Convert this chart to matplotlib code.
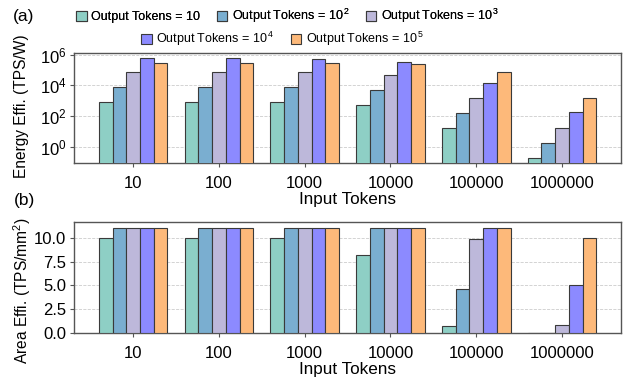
import matplotlib
matplotlib.use("Agg")
import matplotlib.pyplot as plt
import numpy as np
from matplotlib.patches import Patch

plt.rcParams['font.family'] = ['Liberation Sans', 'DejaVu Sans']
plt.rcParams['mathtext.fontset'] = 'custom'
plt.rcParams['mathtext.rm'] = 'Liberation Sans'
plt.rcParams['mathtext.it'] = 'Liberation Sans'

input_tokens = ["10", "100", "1000", "10000", "100000", "1000000"]
series_labels = ["Output Tokens = 10", "Output Tokens = 10$^{\\,2}$", "Output Tokens = 10$^{\\,3}$",
                 "Output Tokens = 10$^{\\,4}$", "Output Tokens = 10$^{\\,5}$"]
colors = ["#8ecfc5", "#7aaed0", "#bdb8da", "#8c8aff", "#fdb97a"]

energy = {
    "10":    [820, 7800, 78000, 600000, 300000],
    "100":   [820, 7800, 78000, 600000, 300000],
    "1000":  [820, 7800, 78000, 560000, 300000],
    "10000": [500, 4700, 45000, 316000, 270000],
    "100000": [16, 158, 1500, 15000, 70000],
    "1000000": [0.17, 1.66, 16, 173, 1580],
}
area = {
    "10":    [10.0, 11.0, 11.0, 11.0, 11.0],
    "100":   [10.0, 11.0, 11.0, 11.0, 11.0],
    "1000":  [10.0, 11.0, 11.0, 11.0, 11.0],
    "10000": [8.15, 11.0, 11.0, 11.0, 11.0],
    "100000": [0.8, 4.63, 9.9, 11.0, 11.0],
    "1000000": [0.01, 0.06, 0.87, 5.0, 9.95],
}

fig = plt.figure(figsize=(6.32, 3.85), dpi=100)
ax1 = fig.add_axes([0.117, 0.5758, 0.866, 0.2858])
ax2 = fig.add_axes([0.117, 0.1343, 0.866, 0.2883])

x = np.arange(len(input_tokens))
w = 0.16
for ax, data in ((ax1, energy), (ax2, area)):
    for i in range(5):
        vals = [data[k][i] for k in input_tokens]
        ax.bar(x + (i - 2) * w, vals, width=w, color=colors[i], edgecolor="#3a3a3a",
               linewidth=0.8, zorder=3)
    ax.set_xlim(-0.69, 5.69)
    ax.set_xticks(x)
    ax.set_xticklabels(input_tokens, fontsize=12)
    ax.set_xlabel("Input Tokens", fontsize=12.3, labelpad=1)
    ax.grid(axis='y', linestyle='--', color='#cccccc', linewidth=0.6, zorder=0)
    for s in ax.spines.values():
        s.set_color('#555555')
        s.set_linewidth(1.0)
    ax.tick_params(axis='both', colors='#555555', labelcolor='black', length=3)
    ax.tick_params(axis='x', pad=6)
    ax.tick_params(axis='y', labelsize=12, pad=2.5)

ax1.set_yscale('log')
ax1.set_ylim(10 ** -1.09, 10 ** 6.1)
ax1.set_yticks([1, 1e2, 1e4, 1e6])
ax1.minorticks_off()
ax1.set_ylabel("Energy Effi. (TPS/W)", fontsize=11.2)
ax1.yaxis.set_label_coords(-0.083, 0.52)

ax2.set_ylim(0, 11.6)
ax2.set_yticks([0, 2.5, 5.0, 7.5, 10.0])
ax2.set_yticklabels(["0.0", "2.5", "5.0", "7.5", "10.0"])
ax2.set_ylabel("Area Effi. (TPS/mm$^2$)", fontsize=11.2)
ax2.yaxis.set_label_coords(-0.075, 0.38)

fig.text(0.02, 0.958, "(a)", fontsize=12.5, va='center')
fig.text(0.022, 0.478, "(b)", fontsize=12.5, va='center')

handles = [Patch(facecolor=c, edgecolor="#3a3a3a", linewidth=0.8) for c in colors]
leg1 = fig.legend(handles[:3], series_labels[:3], loc='center', bbox_to_anchor=(0.455, 0.958),
                  ncol=3, frameon=False, fontsize=9.0, handlelength=0.85, handleheight=0.9,
                  handletextpad=0.35, columnspacing=1.3, borderpad=0)
leg2 = fig.legend(handles[3:], series_labels[3:], loc='center', bbox_to_anchor=(0.447, 0.898),
                  ncol=2, frameon=False, fontsize=9.0, handlelength=0.85, handleheight=0.9,
                  handletextpad=0.35, columnspacing=1.3, borderpad=0)
fig.add_artist(leg1)

fig.savefig("out.png", dpi=100)
